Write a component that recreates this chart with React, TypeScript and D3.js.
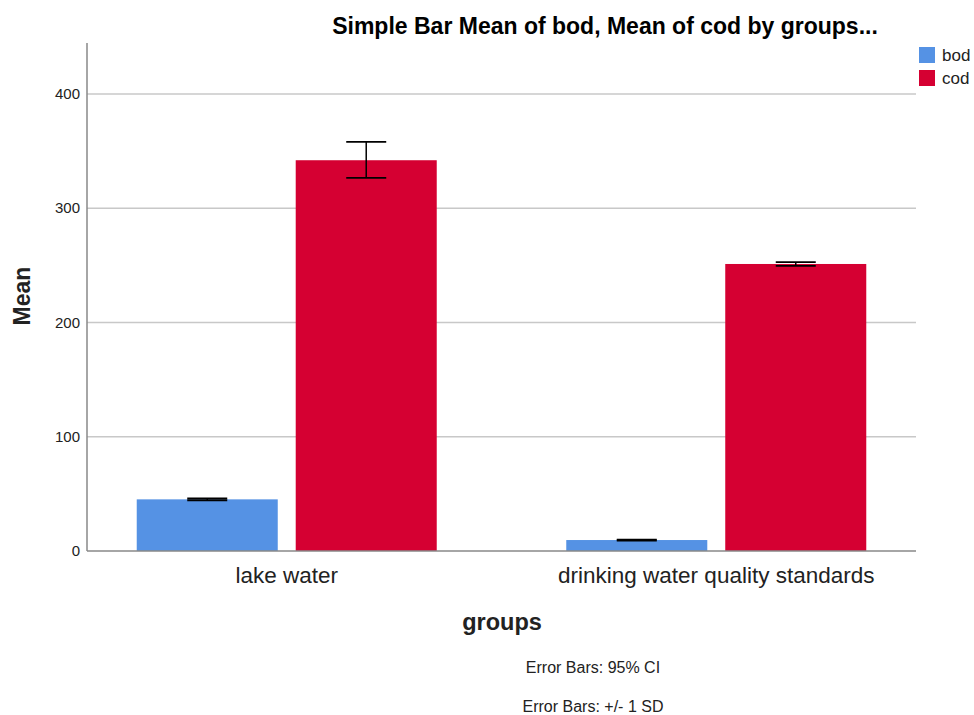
import React from "react";
import * as d3 from "d3";

const groups = ["lake water", "drinking water quality standards"];
const seriesNames = ["bod", "cod"];
const bodMean = [45.2, 9.6];
const bodLo = [44.4, 9.2];
const bodHi = [46.0, 10.0];
const codMean = [342, 251.2];
const codLo = [326.5, 249.6];
const codHi = [358, 252.8];
const yTicks = [0, 100, 200, 300, 400];
const colors = ["#5592e4", "#d50032"];
const footnotes = ["Error Bars: 95% CI", "Error Bars: +/- 1 SD"];

export default function App() {
  const W = 974, H = 715;
  const left = 87, right = 916, top = 43, bottom = 551;
  const y = d3.scaleLinear().domain([0, 444.6]).range([bottom, top]);
  const x = d3.scalePoint<string>().domain(groups).range([left, right]).padding(0.465);
  const inner = d3.scaleBand<string>().domain(seriesNames).range([-150, 150]).paddingInner(0.113);
  const means = [bodMean, codMean];
  const los = [bodLo, codLo];
  const his = [bodHi, codHi];
  const font = "'Liberation Sans', Arial, sans-serif";
  return (
    <svg width={W} height={H} style={{ position: "absolute", left: 0, top: 0, background: "#fff" }} fontFamily={font}>
      <rect width={W} height={H} fill="#fff" />
      <text x={605} y={34} textAnchor="middle" fontSize={23} fontWeight="bold" fill="#000">
        Simple Bar Mean of bod, Mean of cod by groups...
      </text>
      {yTicks.filter((t) => t > 0).map((t) => (
        <line key={t} x1={left} x2={right} y1={y(t)} y2={y(t)} stroke="#c8c8c8" strokeWidth={1.5} />
      ))}
      {yTicks.map((t) => (
        <text key={t} x={80} y={y(t)} dy="0.35em" textAnchor="end" fontSize={15} fill="#222">
          {t}
        </text>
      ))}
      {groups.map((g, gi) =>
        seriesNames.map((s, si) => {
          const bx = (x(g) as number) + (inner(s) as number);
          const bw = inner.bandwidth();
          const cx = bx + bw / 2;
          return (
            <g key={g + s}>
              <rect x={bx} y={y(means[si][gi])} width={bw} height={bottom - y(means[si][gi])} fill={colors[si]} />
              <line x1={cx} x2={cx} y1={y(his[si][gi])} y2={y(los[si][gi])} stroke="#000" strokeWidth={1.5} />
              <line x1={cx - 20} x2={cx + 20} y1={y(his[si][gi])} y2={y(his[si][gi])} stroke="#000" strokeWidth={1.8} />
              <line x1={cx - 20} x2={cx + 20} y1={y(los[si][gi])} y2={y(los[si][gi])} stroke="#000" strokeWidth={1.8} />
            </g>
          );
        })
      )}
      <line x1={left} x2={left} y1={top} y2={bottom} stroke="#888" strokeWidth={1.5} />
      <line x1={left} x2={right} y1={bottom} y2={bottom} stroke="#888" strokeWidth={1.5} />
      {groups.map((g) => (
        <text key={g} x={x(g)} y={583} textAnchor="middle" fontSize={22.5} fill="#222">
          {g}
        </text>
      ))}
      <text x={502} y={630} textAnchor="middle" fontSize={23.5} fontWeight="bold" fill="#222">
        groups
      </text>
      <text transform={`translate(30,${296}) rotate(-90)`} textAnchor="middle" fontSize={23} fontWeight="bold" fill="#222">
        Mean
      </text>
      {footnotes.map((f, i) => (
        <text key={f} x={593} y={673 + i * 39} textAnchor="middle" fontSize={16} fill="#222">
          {f}
        </text>
      ))}
      {seriesNames.map((s, i) => (
        <g key={s}>
          <rect x={919} y={47 + i * 23} width={16} height={16} fill={colors[i]} />
          <text x={942} y={55 + i * 23} dy="0.35em" fontSize={17} fill="#222">
            {s}
          </text>
        </g>
      ))}
    </svg>
  );
}
